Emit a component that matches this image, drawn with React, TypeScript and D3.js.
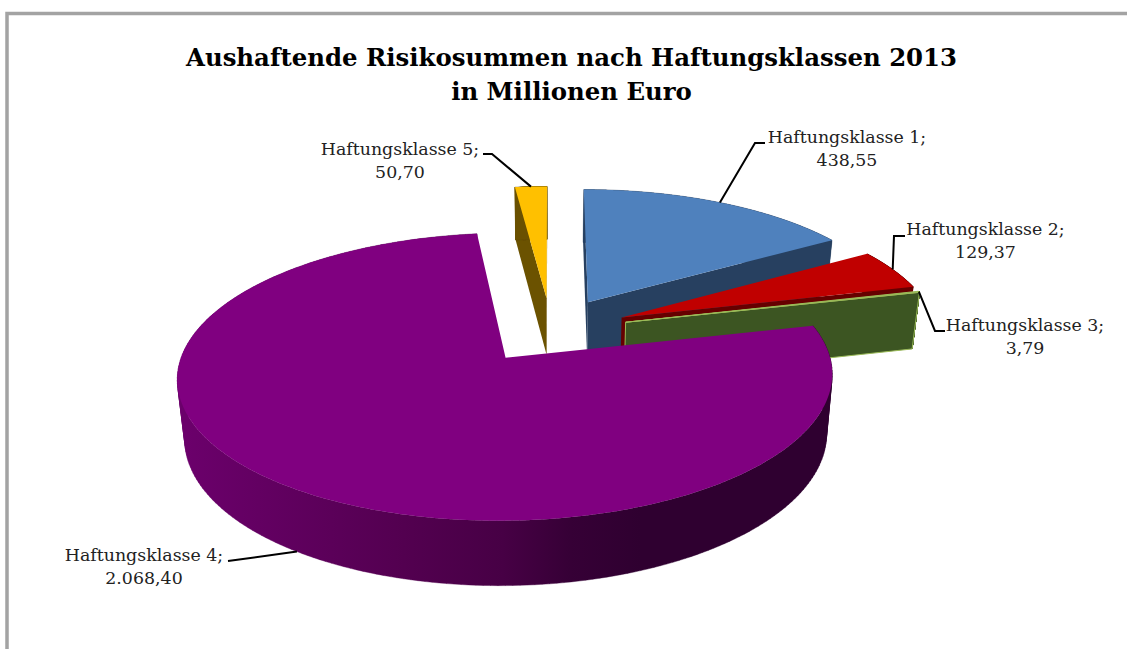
import React from "react";
import * as d3 from "d3";

const classes = ["Haftungsklasse 1;", "Haftungsklasse 2;", "Haftungsklasse 3;", "Haftungsklasse 4;", "Haftungsklasse 5;"];
const valueLabels = ["438,55", "129,37", "3,79", "2.068,40", "50,70"];
const values = [438.55, 129.37, 3.79, 2068.4, 50.7];
const topColors = ["#4F81BD", "#C00000", "#9BBB59", "#800080", "#FFC000"];
const wallColors = ["#274060", "#660000", "#3C5522", "url(#wall4)", "#6B5200"];
const titleLines = ["Aushaftende Risikosummen nach Haftungsklassen 2013", "in Millionen Euro"];

// Label block centre, first baseline and the elbow of each leader line
const labelX = [847, 985.5, 1025, 144, 400];
const labelY = [143, 235, 331, 561, 155];
const elbows: [number, number][][] = [
  [[755, 143], [765, 143]],
  [[894, 236], [905, 236]],
  [[935, 331], [945, 331]],
  [[228, 561]],
  [[492, 154], [483, 154]],
];

// Perspective camera for the tilted disc
const CX = 551, CY = 330, R = 316, B = 134, PERSP = 0.13;
const EXPLODE = 0.245, DEPTH = 58, FLOOR = 0.98;
const RIM_STEPS = 240;

type Pt = [number, number];

function project(u: number, v: number, down: boolean): Pt {
  const w = 1 - PERSP * v;
  const s = down ? FLOOR : 1;
  return [CX + (R * u * s) / w, CY + (B * v * s) / w + (down ? DEPTH / w : 0)];
}

const pie = d3.pie<number>().sort(null).startAngle(0).endAngle(2 * Math.PI);
const arcs = pie(values);
const line = d3.line<Pt>();
const closed = (pts: Pt[]) => line(pts) + "Z";

function slicePoint(i: number, angle: number, r: number, down: boolean): Pt {
  const a = arcs[i];
  const mid = (a.startAngle + a.endAngle) / 2;
  const u = EXPLODE * Math.sin(mid) + r * Math.sin(angle);
  const v = -EXPLODE * Math.cos(mid) - r * Math.cos(angle);
  return project(u, v, down);
}

function rim(i: number, down: boolean): Pt[] {
  const a = arcs[i];
  return d3.range(0, RIM_STEPS + 1).map((k) => {
    const t = a.startAngle + ((a.endAngle - a.startAngle) * k) / RIM_STEPS;
    return slicePoint(i, t, 1, down);
  });
}

// A flat cut wall running from the apex to the rim at one angle
function cutWall(i: number, angle: number): Pt[] {
  return [
    slicePoint(i, angle, 0, false),
    slicePoint(i, angle, 1, false),
    slicePoint(i, angle, 1, true),
    slicePoint(i, angle, 0, true),
  ];
}

function signedArea(p: Pt[]): number {
  return p.reduce((s, q, k) => {
    const n = p[(k + 1) % p.length];
    return s + q[0] * n[1] - n[0] * q[1];
  }, 0);
}

// Painted from the back of the disc to the front
const paintOrder = [4, 0, 1, 2, 3];

function Slice({ i }: { i: number }) {
  const a = arcs[i];
  const startWall = cutWall(i, a.startAngle);
  const endWall = cutWall(i, a.endAngle);
  const top = rim(i, false);
  const bottom = rim(i, true);
  const apex = slicePoint(i, 0, 0, false);
  const edge = i === 2 ? { stroke: "#9BBB59", strokeWidth: 1 } : {};
  // The curved outer wall is a strip of quads wound the same way, so overlaps stay filled
  const strip = d3.range(0, RIM_STEPS).map((k) => {
    const quad: Pt[] = [top[k], top[k + 1], bottom[k + 1], bottom[k]];
    return closed(signedArea(quad) < 0 ? quad.reverse() : quad);
  });
  return (
    <g>
      {signedArea(startWall) < 0 && <path d={closed(startWall)} fill={wallColors[i]} {...edge} />}
      <path d={strip.join("")} fill={wallColors[i]} stroke={wallColors[i]} strokeWidth={0.4} />
      {signedArea(endWall) > 0 && <path d={closed(endWall)} fill={wallColors[i]} {...edge} />}
      <path d={closed([apex, ...top])} fill={topColors[i]} {...edge} />
    </g>
  );
}

function Leader({ i }: { i: number }) {
  const a = arcs[i];
  const mid = (a.startAngle + a.endAngle) / 2;
  const start = slicePoint(i, mid, 1, i === 3);
  return <path d={line([start, ...elbows[i]]) ?? ""} fill="none" stroke="#000" strokeWidth={2} />;
}

export default function App() {
  const serif = "'DejaVu Serif', 'Liberation Serif', serif";
  return (
    <svg
      width={1127}
      height={649}
      style={{ position: "absolute", left: 0, top: 0, background: "#fff" }}
      fontFamily={serif}
    >
      <defs>
        <linearGradient id="wall4" gradientUnits="userSpaceOnUse" x1={186} x2={826} y1={0} y2={0}>
          <stop offset="0" stopColor="#6B006B" />
          <stop offset="0.34" stopColor="#530050" />
          <stop offset="0.495" stopColor="#470045" />
          <stop offset="0.6" stopColor="#360036" />
          <stop offset="0.71" stopColor="#2F0030" />
          <stop offset="1" stopColor="#2F0030" />
        </linearGradient>
      </defs>
      <path d="M7,649V13.5H1127" fill="none" stroke="#A3A3A3" strokeWidth={3.5} />
      {titleLines.map((t, k) => (
        <text key={t} x={571.5} y={66 + k * 34} textAnchor="middle" fontSize={24.4} fontWeight={700} fill="#000">
          {t}
        </text>
      ))}
      {paintOrder.map((i) => (
        <Slice key={i} i={i} />
      ))}
      {paintOrder.map((i) => (
        <Leader key={i} i={i} />
      ))}
      {classes.map((c, i) => (
        <text key={c} x={labelX[i]} y={labelY[i]} textAnchor="middle" fontSize={17.4} fill="#222">
          <tspan x={labelX[i]}>{c}</tspan>
          <tspan x={labelX[i]} dy={23}>{valueLabels[i]}</tspan>
        </text>
      ))}
    </svg>
  );
}
